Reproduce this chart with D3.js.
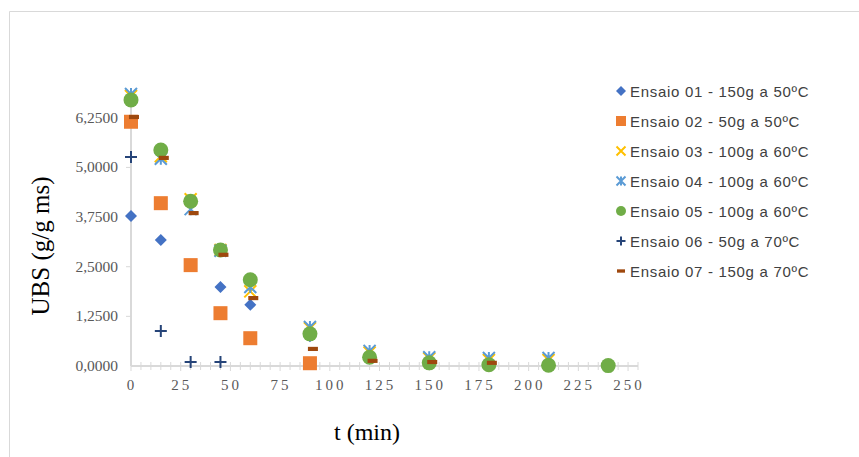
<!DOCTYPE html>
<html>
<head>
<meta charset="utf-8">
<script src="https://cdn.jsdelivr.net/npm/d3@7"></script>
<style>
  body { margin: 0; background: #fff; }
  svg { display: block; }
</style>
</head>
<body>
<div id="chart"></div>
<script>
// Data
const times = [0, 15, 30, 45, 60, 90, 120, 150, 180, 210, 240]
const timesOffset = [1.5, 16.5, 31.5, 46.5, 61.5, 91.5, 121.5, 151.5, 181.5]

const ensaio01 = [3.78, 3.17, 2.55, 1.99, 1.54, 0.75, 0.2, 0.06, 0.03]
const ensaio02 = [6.15, 4.10, 2.54, 1.33, 0.70, 0.07]
const ensaio03 = [6.80, 5.28, 4.20, 2.92, 1.88, 0.95, 0.34, 0.19, 0.15, 0.15]
const ensaio04 = [6.85, 5.22, 3.95, 2.90, 1.99, 0.98, 0.38, 0.22, 0.20, 0.20]
const ensaio05 = [6.70, 5.44, 4.15, 2.92, 2.17, 0.81, 0.22, 0.08, 0.03, 0.02, 0.01]
const ensaio06 = [5.26, 0.88, 0.10, 0.10]
const ensaio07 = [6.27, 5.24, 3.85, 2.80, 1.71, 0.43, 0.13, 0.10, 0.08]

const labels = [
  "Ensaio 01 - 150g a 50ºC",
  "Ensaio 02 - 50g a 50ºC",
  "Ensaio 03 - 100g a 60ºC",
  "Ensaio 04 - 100g a 60ºC",
  "Ensaio 05 - 100g a 60ºC",
  "Ensaio 06 - 50g a 70ºC",
  "Ensaio 07 - 150g a 70ºC"
]
const yTicks = [0, 1.25, 2.5, 3.75, 5, 6.25]
const xTicks = [0, 25, 50, 75, 100, 125, 150, 175, 200, 225, 250]

const series = [
  { name: labels[0], t: times, v: ensaio01, shape: "diamond", color: "#4472C4" },
  { name: labels[1], t: times, v: ensaio02, shape: "square", color: "#ED7D31" },
  { name: labels[2], t: times, v: ensaio03, shape: "x", color: "#FFC000" },
  { name: labels[3], t: times, v: ensaio04, shape: "star", color: "#5B9BD5" },
  { name: labels[4], t: times, v: ensaio05, shape: "circle", color: "#70AD47" },
  { name: labels[5], t: times, v: ensaio06, shape: "plus", color: "#264478" },
  { name: labels[6], t: timesOffset, v: ensaio07, shape: "dash", color: "#9E480E" }
]

const width = 859, height = 457

const xScale = d3.scaleLinear().domain([0, 255]).range([131, 638])
const yScale = d3.scaleLinear().domain([0, 7]).range([366, 88])

const svg = d3.select("#chart").append("svg")
  .attr("width", width)
  .attr("height", height)

// chart frame
svg.append("path")
  .attr("d", "M9.5," + height + "V11.5H" + width)
  .attr("fill", "none")
  .attr("stroke", "#d9d9d9")
  .attr("stroke-width", 1)

// axes
const axisColor = "#d9d9d9"

const xMinor = d3.range(0, 256, 5)
svg.append("g").selectAll("line")
  .data(xMinor)
  .enter().append("line")
    .attr("x1", d => xScale(d)).attr("x2", d => xScale(d))
    .attr("y1", d => yScale(0) - 4)
    .attr("y2", d => yScale(0) + (d % 25 === 0 ? 5 : 4))
    .attr("stroke", axisColor)
    .attr("stroke-width", 1)

svg.append("line")
  .attr("x1", xScale(0)).attr("x2", xScale(255))
  .attr("y1", yScale(0)).attr("y2", yScale(0))
  .attr("stroke", axisColor).attr("stroke-width", 2)

svg.append("line")
  .attr("x1", xScale(0)).attr("x2", xScale(0))
  .attr("y1", yScale(0)).attr("y2", yScale(7))
  .attr("stroke", axisColor).attr("stroke-width", 2)

svg.append("g").selectAll("line")
  .data(yTicks.slice(1))
  .enter().append("line")
    .attr("x1", xScale(0) - 5).attr("x2", xScale(0))
    .attr("y1", d => yScale(d)).attr("y2", d => yScale(d))
    .attr("stroke", axisColor)

const fmtY = d => d.toFixed(4).replace(".", ",")

svg.append("g").selectAll("text")
  .data(yTicks)
  .enter().append("text")
    .text(fmtY)
    .attr("x", 118)
    .attr("y", d => yScale(d) + 5)
    .attr("text-anchor", "end")
    .attr("font-family", "Liberation Serif, Times New Roman, serif")
    .attr("font-size", "15.5px")
    .attr("fill", "#595959")

svg.append("g").selectAll("text")
  .data(xTicks)
  .enter().append("text")
    .text(d => d)
    .attr("x", d => xScale(d) + 1)
    .attr("y", 390)
    .attr("text-anchor", "middle")
    .attr("font-family", "Liberation Serif, Times New Roman, serif")
    .attr("font-size", "15px")
    .attr("letter-spacing", "3px")
    .attr("fill", "#595959")

// axis titles
svg.append("text")
  .text("UBS (g/g ms)")
  .attr("text-anchor", "middle")
  .attr("font-family", "Liberation Serif, Times New Roman, serif")
  .attr("font-size", "25px")
  .attr("fill", "#000")
  .attr("transform", "translate(49,246)rotate(-90)")

svg.append("text")
  .text("t (min)")
  .attr("text-anchor", "middle")
  .attr("x", 367)
  .attr("y", 440)
  .attr("font-family", "Liberation Serif, Times New Roman, serif")
  .attr("font-size", "24px")
  .attr("fill", "#000")

// markers
function drawMarker(g, shape, color, size) {
  const s = size
  if (shape === "diamond") {
    g.append("path").attr("d", `M0,${-s}L${s},0L0,${s}L${-s},0Z`).attr("fill", color)
  } else if (shape === "square") {
    g.append("rect").attr("x", -s).attr("y", -s).attr("width", 2 * s).attr("height", 2 * s).attr("fill", color)
  } else if (shape === "circle") {
    g.append("circle").attr("r", s).attr("fill", color)
  } else if (shape === "x") {
    g.append("path").attr("d", `M${-s},${-s}L${s},${s}M${-s},${s}L${s},${-s}`)
      .attr("stroke", color).attr("stroke-width", 2).attr("fill", "none")
  } else if (shape === "star") {
    g.append("path").attr("d", `M${-s},${-s}L${s},${s}M${-s},${s}L${s},${-s}M0,${-s}V${s}`)
      .attr("stroke", color).attr("stroke-width", 2).attr("fill", "none")
  } else if (shape === "plus") {
    g.append("path").attr("d", `M${-s},0H${s}M0,${-s}V${s}`)
      .attr("stroke", color).attr("stroke-width", 2).attr("fill", "none")
  } else if (shape === "dash") {
    g.append("rect").attr("x", -s).attr("y", -s / 2.4).attr("width", 2 * s).attr("height", s / 1.2).attr("fill", color)
  }
}

const sizes = { diamond: 6, square: 7, x: 6, star: 6, circle: 7.5, plus: 6, dash: 5 }

series.forEach(sr => {
  const pts = sr.v.map((v, i) => ({ t: sr.t[i], v: v }))
  svg.append("g").selectAll("g")
    .data(pts)
    .enter().append("g")
      .attr("transform", d => "translate(" + xScale(d.t) + "," + yScale(d.v) + ")")
      .each(function() { drawMarker(d3.select(this), sr.shape, sr.color, sizes[sr.shape]) })
})

// legend
const legendSizes = { diamond: 5, square: 5, x: 4.5, star: 4.5, circle: 5, plus: 4.5, dash: 4 }
const legend = svg.append("g").selectAll("g")
  .data(series)
  .enter().append("g")
    .attr("transform", (d, i) => "translate(621," + (91 + i * 30) + ")")

legend.each(function(d) {
  drawMarker(d3.select(this), d.shape, d.color, legendSizes[d.shape])
})

legend.append("text")
  .text(d => d.name)
  .attr("x", 9)
  .attr("y", 5.5)
  .attr("font-family", "Liberation Sans, Arial, sans-serif")
  .attr("font-size", "15px")
  .attr("letter-spacing", "0.7px")
  .attr("fill", "#404040")
</script>
</body>
</html>
